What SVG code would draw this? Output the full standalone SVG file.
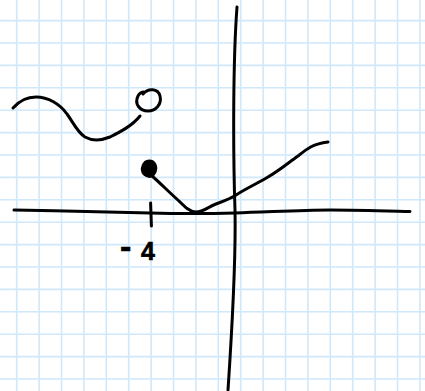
<svg xmlns="http://www.w3.org/2000/svg" width="425" height="391" viewBox="0 0 425 391">
<style>
.grid{stroke:#cfe8fa;stroke-width:1.6;fill:none}
.ink{stroke:#000;stroke-width:3;fill:none;stroke-linecap:round;stroke-linejoin:round}
.lbl{font-family:"Liberation Sans",Arial,sans-serif;font-size:25px;font-weight:bold;fill:#000;stroke:#000;stroke-width:0.6}
</style>
<rect width="425" height="391" fill="#fff"/>
<g id="grid" class="grid">
<path d="M16.7,0V391M39.1,0V391M61.5,0V391M83.9,0V391M106.3,0V391M128.7,0V391M151.1,0V391M173.5,0V391M195.9,0V391M218.3,0V391M240.7,0V391M263.1,0V391M285.5,0V391M307.9,0V391M330.3,0V391M352.7,0V391M375.1,0V391M397.5,0V391M419.9,0V391"/>
<path d="M0,20.6H425M0,43H425M0,65.4H425M0,87.8H425M0,110.2H425M0,132.6H425M0,155H425M0,177.4H425M0,199.8H425M0,222.2H425M0,244.6H425M0,267H425M0,289.4H425M0,311.8H425M0,334.2H425M0,356.6H425M0,379H425"/>
</g>
<g id="axes" class="ink">
<path d="M237,7 C233,60 233,150 235,210 C236,260 232,330 228,390"/>
<path d="M14,210 C60,211 110,212 150,213 C190,214 215,213.5 235,213 C270,212 300,210 330,210 C360,210 390,211 410,211.5"/>
<path d="M150.6,203 L151.4,226"/>
</g>
<g id="left-curve" class="ink">
<path d="M13,108 C20,100 28,97 36,97 C48,97 60,104 67,114 C73,122 77,132 85,137 C92,141 100,141 110,137 C120,132 132,126 140,116"/>
<path d="M143,94 C148,88 158,88 160,96 C162,104 156,111 148,111 C140,111 134,104 138,96 C139,94 141,92 144,92"/>
</g>
<g id="right-curve" class="ink">
<path d="M149,161 C155,161 157,167 155,172 C153,176 150,177 148,176 C143,175 141,170 143,166 C144,163 146,161 149,161 Z" fill="#000"/>
<path d="M152,176 C158,181 170,193 179,201 C185,207 190,212 196,212 C203,212 208,207 216,204 C224,201 230,199 236,195 C245,189 258,183 268,177 C280,170 288,163 298,156 C308,148 313,144 328,142"/>
</g>
<g id="label">
<text class="lbl" x="120" y="260"><tspan dy="-2" font-size="34">-</tspan><tspan x="141" dy="2">4</tspan></text>
</g>
</svg>
